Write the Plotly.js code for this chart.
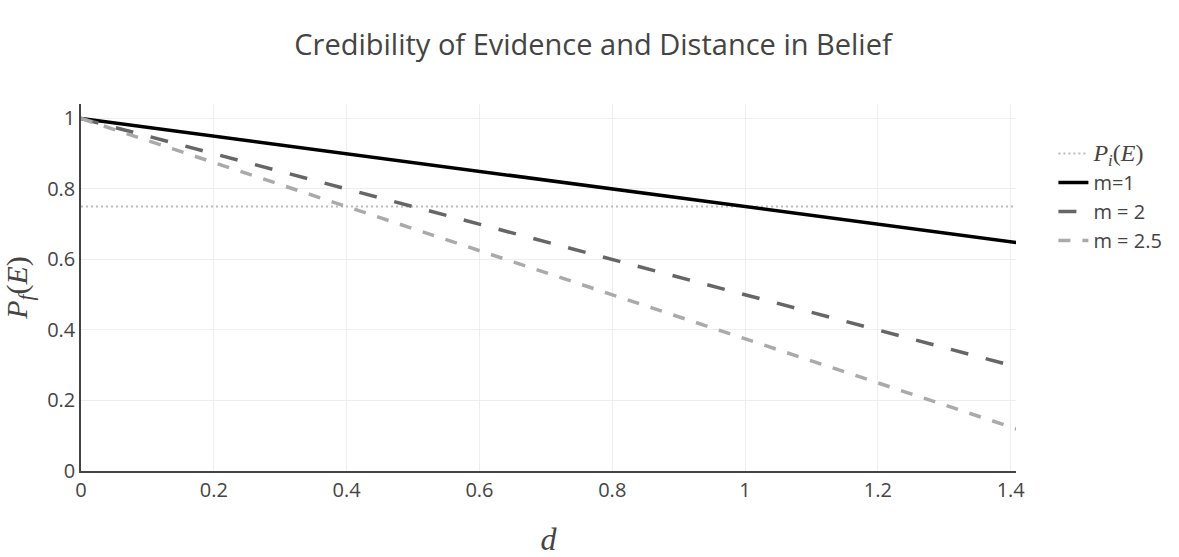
<!DOCTYPE html>
<html>
<head>
<meta charset="utf-8">
<script src="https://cdn.plot.ly/plotly-3.0.1.min.js"></script>
<style>html,body{margin:0;padding:0;background:#fff;}#chart{width:1179px;height:557px;}</style>
</head>
<body>
<div id="chart"></div>
<script>
// Distance in belief (x) and final credibility for each m
const dVals = [0, 1.41];
const priorVals = [0.75, 0.75];
const m1Vals = [1, 0.6475];
const m2Vals = [1, 0.295];
const m25Vals = [1, 0.11875];
const yTicks = [0, 0.2, 0.4, 0.6, 0.8, 1];
const xTicks = [0, 0.2, 0.4, 0.6, 0.8, 1, 1.2, 1.4];

const mathFont = "font-family:'Liberation Serif',serif;font-size:24px";

const traces = [
  {x: dVals, y: priorVals, mode: 'lines', name: `<span style="${mathFont}"><i>P</i><sub><i>i</i></sub>(<i>E</i>)</span>`,
   line: {color: '#bbbbbb', width: 2, dash: '2px,3px'}},
  {x: dVals, y: m1Vals, mode: 'lines', name: 'm=1',
   line: {color: '#000000', width: 3.5}},
  {x: dVals, y: m2Vals, mode: 'lines', name: 'm = 2',
   line: {color: '#666666', width: 3.5, dash: '18px,18px'}},
  {x: dVals, y: m25Vals, mode: 'lines', name: 'm = 2.5',
   line: {color: '#aaaaaa', width: 3.5, dash: '12px,12px'}}
];

const layout = {
  width: 1179, height: 557,
  margin: {l: 81, r: 160, t: 104, b: 86},
  paper_bgcolor: '#fff', plot_bgcolor: '#fff',
  font: {family: "'Open Sans', sans-serif", color: '#444', size: 20},
  title: {text: 'Credibility of Evidence and Distance in Belief', x: 0.503, xref: 'container', y: 0.919, yref: 'container',
          xanchor: 'center', yanchor: 'middle', font: {size: 29, color: '#444'}},
  xaxis: {range: [0, 1.408], tickvals: xTicks, ticktext: xTicks.map(String), showline: true, linecolor: '#444', linewidth: 1.5,
          gridcolor: '#eeeeee', zeroline: false, ticks: '', tickfont: {size: 20},
          title: {text: '<i>d</i>', font: {family: "'Liberation Serif', serif", size: 32}, standoff: 34}},
  yaxis: {range: [0, 1.041], tickvals: yTicks, ticktext: yTicks.map(String), showline: true, linecolor: '#444', linewidth: 1.5,
          gridcolor: '#eeeeee', zeroline: false, ticks: '', tickfont: {size: 20},
          title: {text: '<i>P</i><sub><i>f</i></sub>(<i>E</i>)', font: {family: "'Liberation Serif', serif", size: 30}, standoff: 12}},
  legend: {x: 1.04, xanchor: 'left', y: 0.918, yanchor: 'top', font: {size: 20, color: '#444'}, tracegroupgap: 0},
  showlegend: true
};

Plotly.newPlot('chart', traces, layout, {displayModeBar: false});
</script>
</body>
</html>
